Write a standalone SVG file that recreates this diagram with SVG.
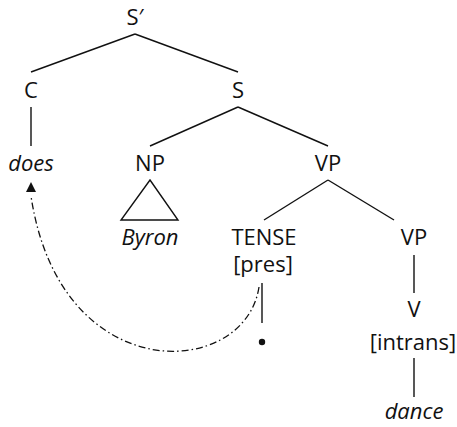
<svg xmlns="http://www.w3.org/2000/svg" width="457" height="427" viewBox="0 0 457 427">
<defs>
<style>
text{font-family:"Open Sans","Noto Sans",sans-serif;font-size:22px;fill:#111;text-anchor:middle}
.it{font-style:italic}
.ln{stroke:#111;stroke-width:1.4;fill:none}
.dd{stroke:#111;stroke-width:1.3;fill:none;stroke-dasharray:7 3 1.5 3}
</style>
</defs>
<rect width="457" height="427" fill="#fff"/>
<g id="connectors">
<line class="ln" x1="135" y1="34" x2="31" y2="72"/>
<line class="ln" x1="135" y1="34" x2="238" y2="72"/>
<line class="ln" x1="31" y1="107" x2="31" y2="146"/>
<line class="ln" x1="238" y1="107" x2="150" y2="146"/>
<line class="ln" x1="238" y1="107" x2="328" y2="146"/>
<line class="ln" x1="328" y1="180" x2="264" y2="220"/>
<line class="ln" x1="328" y1="180" x2="394" y2="220"/>
<line class="ln" x1="414" y1="255" x2="414" y2="293"/>
<line class="ln" x1="414" y1="358" x2="414" y2="397"/>
<line class="ln" x1="262" y1="283" x2="262" y2="323"/>
<path class="dd" d="M259,287 C245,380 60,390 31,196"/>
<path d="M26,192 L31,182 L36,192 Z" fill="#111"/>
</g>
<g id="n-sbar"><text x="135" y="25">S′</text></g>
<g id="n-c"><text x="31" y="98">C</text></g>
<g id="n-s"><text x="238" y="98">S</text></g>
<g id="n-does"><text class="it" x="31" y="171">does</text></g>
<g id="n-np"><text x="150" y="171">NP</text></g>
<g id="n-vp1"><text x="328" y="171">VP</text></g>
<g id="n-tri"><path class="ln" d="M150,180 L178,220 L121,220 Z"/></g>
<g id="n-byron"><text class="it" x="150" y="245">Byron</text></g>
<g id="n-tense"><text x="264" y="245">TENSE</text><text x="263" y="272">[pres]</text></g>
<g id="n-vp2"><text x="414" y="245">VP</text></g>
<g id="n-trace"><circle cx="262" cy="342" r="3.2" fill="#111"/></g>
<g id="n-v"><text x="414" y="317">V</text><text x="413" y="350">[intrans]</text></g>
<g id="n-dance"><text class="it" x="414" y="419">dance</text></g>
</svg>
